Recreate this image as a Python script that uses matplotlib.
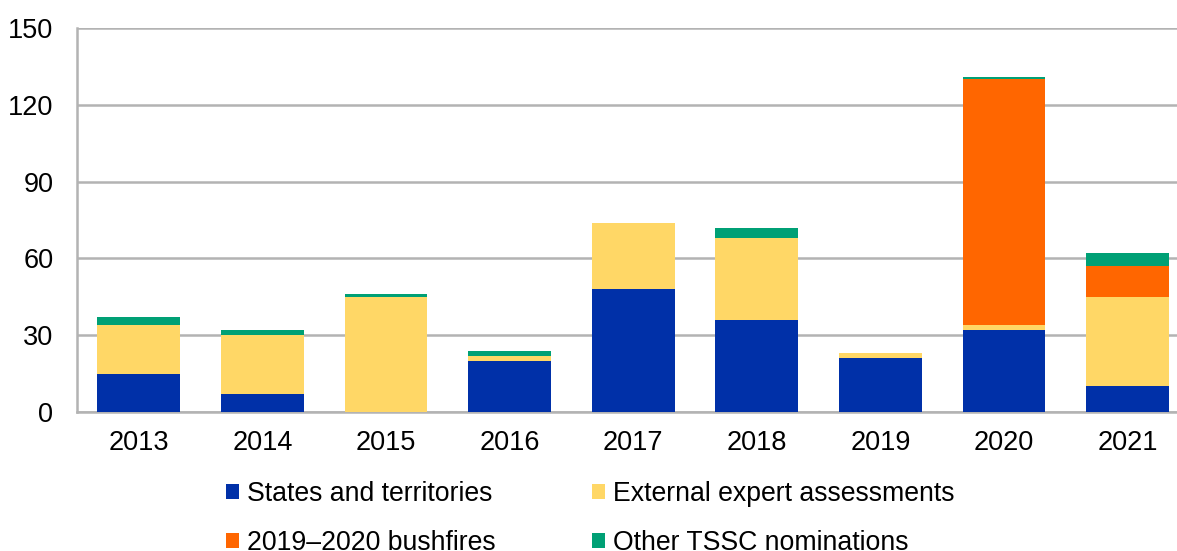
import matplotlib.pyplot as plt
import numpy as np
from matplotlib.patches import Patch

plt.rcParams['font.family'] = ['Liberation Sans', 'DejaVu Sans']

years = ["2013", "2014", "2015", "2016", "2017", "2018", "2019", "2020", "2021"]
states = [15, 7, 0, 20, 48, 36, 21, 32, 10]
external = [19, 23, 45, 2, 26, 32, 2, 2, 35]
bushfires = [0, 0, 0, 0, 0, 0, 0, 96, 12]
other = [3, 2, 1, 2, 0, 4, 0, 1, 5]

series = [
    ("States and territories", states, "#0030A8"),
    ("External expert assessments", external, "#FFD766"),
    ("2019\u20132020 bushfires", bushfires, "#FF6600"),
    ("Other TSSC nominations", other, "#00A075"),
]

fig = plt.figure(figsize=(11.77, 5.51), dpi=100)
ax = fig.add_axes([77/1177, 1 - 412/551, 1 - 77/1177, (412 - 28)/551])

x = np.arange(len(years))
bottom = np.zeros(len(years))
for name, vals, col in series:
    vals = np.array(vals, dtype=float)
    ax.bar(x, vals, width=0.67, bottom=bottom, color=col, zorder=3)
    bottom += vals

ax.set_ylim(0, 150)
ax.set_yticks([0, 30, 60, 90, 120, 150])
ax.set_xlim(-0.5, 8.4)
ax.set_xticks(x)
ax.set_xticklabels(years)
ax.yaxis.grid(True, color="#B3B3B3", linewidth=1.8, zorder=0)
ax.tick_params(axis="both", length=0, labelsize=19.5, colors="black")
ax.tick_params(axis="x", pad=13)
ax.tick_params(axis="y", pad=17)
for s in ["top", "right"]:
    ax.spines[s].set_visible(False)
for s in ["left", "bottom"]:
    ax.spines[s].set_color("#B3B3B3")
    ax.spines[s].set_linewidth(1.8)

handles = [Patch(facecolor=c, label=n) for n, v, c in series]
# order so rows read: states, external / bushfires, other
order = [handles[0], handles[2], handles[1], handles[3]]
fig.legend(handles=order, ncol=2, loc="upper left",
           bbox_to_anchor=(226/1177, 1 - 481/551), frameon=False,
           fontsize=19.2, handlelength=0.5, handleheight=0.5,
           handletextpad=0.3, columnspacing=3.6, labelspacing=0.85,
           borderaxespad=0, borderpad=0)

fig.savefig("out.png", dpi=100)
